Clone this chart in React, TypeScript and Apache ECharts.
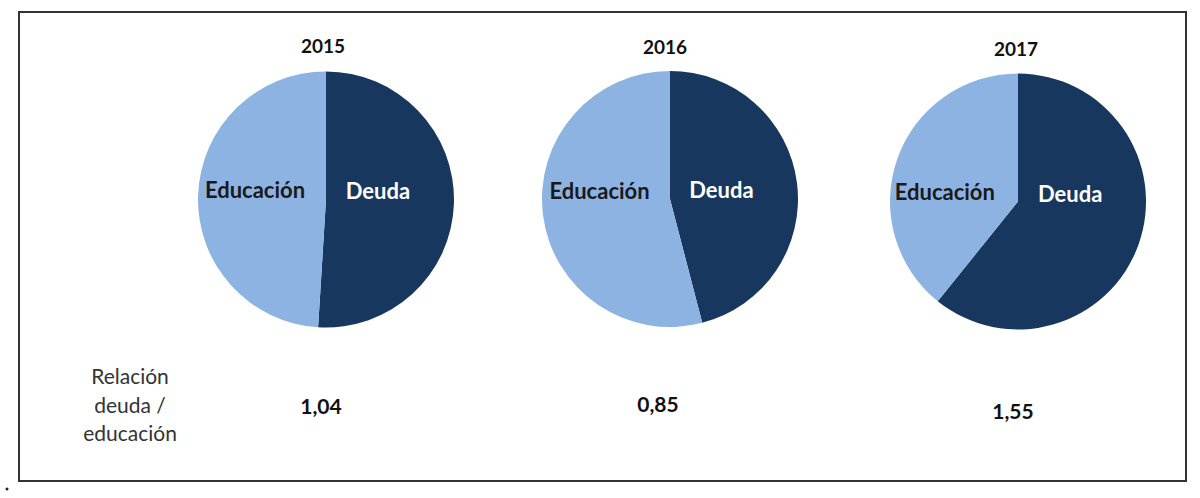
import React, { useEffect, useRef } from "react";
import * as echarts from "echarts";

const years = ["2015", "2016", "2017"];
const categories = ["Deuda", "Educación"];
const deudaValues = [1.04, 0.85, 1.55];
const educacionValues = [1, 1, 1];
const ratioLabels = ["1,04", "0,85", "1,55"];
const sideLabel = ["Relación", "deuda /", "educación"];

const DARK = "#17375e";
const LIGHT = "#8db3e2";
const FONT = "Lato, 'Open Sans', sans-serif";

// layout per pie (positions only)
const centers: [number, number][] = [
  [326, 199.5],
  [670, 199],
  [1018, 201.5],
];
const titlePos: [number, number][] = [
  [323, 45],
  [665, 46],
  [1016, 48],
];
const ratioPos: [number, number][] = [
  [321, 405],
  [658, 403],
  [1013, 410],
];
const deudaOffsets: [number, number][] = [
  [-15, -11],
  [-15, -1],
  [-11, -30],
];
const eduOffsets: [number, number][] = [
  [-4, -8],
  [-4, -17],
  [-10, 12],
];

export default function App() {
  const ref = useRef<HTMLDivElement>(null);
  useEffect(() => {
    document.body.style.margin = "0";
    const chart = echarts.init(ref.current!, null, { renderer: "svg" });
    const series = years.map((y, i) => ({
      type: "pie",
      name: y,
      center: centers[i],
      radius: 128,
      startAngle: 90,
      clockwise: true,
      silent: true,
      labelLine: { show: false },
      data: [
        {
          name: categories[0],
          value: deudaValues[i],
          itemStyle: { color: DARK },
          label: {
            show: true,
            position: "inside",
            color: "#ffffff",
            fontFamily: FONT,
            fontWeight: "bold",
            fontSize: 22,
            offset: deudaOffsets[i],
            formatter: "{b}",
          },
        },
        {
          name: categories[1],
          value: educacionValues[i],
          itemStyle: { color: LIGHT },
          label: {
            show: true,
            position: "inside",
            color: "#1a1a1a",
            fontFamily: FONT,
            fontWeight: "bold",
            fontSize: 22,
            offset: eduOffsets[i],
            formatter: "{b}",
          },
        },
      ],
    }));

    const graphics: any[] = [
      {
        type: "rect",
        shape: { x: 19, y: 12, width: 1167, height: 469 },
        style: { fill: "none", stroke: "#333333", lineWidth: 2 },
      },
      {
        type: "circle",
        shape: { cx: 7, cy: 489, r: 1.5 },
        style: { fill: "#222222" },
      },
    ];
    years.forEach((y, i) => {
      graphics.push({
        type: "text",
        x: titlePos[i][0],
        y: titlePos[i][1],
        style: {
          text: y,
          fill: "#111111",
          font: `bold 19px ${FONT}`,
          align: "center",
          verticalAlign: "middle",
        },
      });
      graphics.push({
        type: "text",
        x: ratioPos[i][0],
        y: ratioPos[i][1],
        style: {
          text: ratioLabels[i],
          fill: "#111111",
          font: `bold 21px ${FONT}`,
          align: "center",
          verticalAlign: "middle",
        },
      });
    });
    const sideY = [375, 404, 432];
    sideLabel.forEach((t, k) => {
      graphics.push({
        type: "text",
        x: 130,
        y: sideY[k],
        style: {
          text: t,
          fill: "#333333",
          font: `21px ${FONT}`,
          align: "center",
          verticalAlign: "middle",
        },
      });
    });

    chart.setOption({
      animation: false,
      backgroundColor: "#ffffff",
      series,
      graphic: graphics,
    } as any);
    return () => chart.dispose();
  }, []);
  return <div ref={ref} style={{ width: 1200, height: 498 }} />;
}
